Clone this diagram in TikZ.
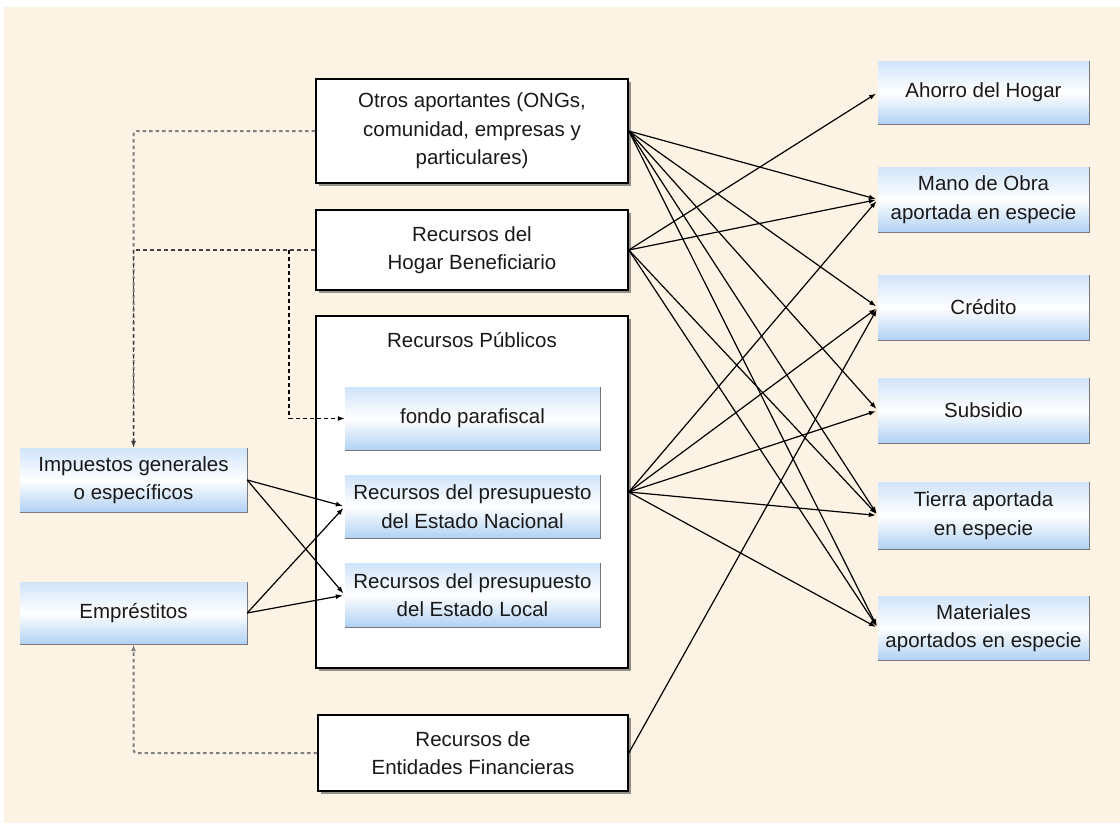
\documentclass[tikz,border=0pt]{standalone}
\usepackage{fontspec}
\setmainfont{Liberation Sans}
\usetikzlibrary{arrows.meta,shadows}
\definecolor{cream}{RGB}{252,243,228}
\definecolor{gtop}{RGB}{208,228,250}
\definecolor{gbot}{RGB}{176,209,243}
\definecolor{gedge}{RGB}{120,120,120}
\definecolor{txt}{RGB}{25,25,25}
\begin{document}
\begin{tikzpicture}[x=1pt,y=-1pt,
  every node/.style={font=\fontsize{20.5}{28.5}\selectfont, text=txt, align=center, inner sep=0pt},
  wbox/.style={draw=black, line width=1.6pt, fill=white,
     drop shadow={shadow xshift=3pt, shadow yshift=-3pt, fill=black!60, opacity=0.7}},
  gbox/.style={top color=gtop, bottom color=gbot, middle color=white, shading angle=0},
  link/.style={line width=1.2pt, black, -{Latex[length=7pt,width=5pt]}, shorten >=2pt},
  dashgray/.style={line width=2pt, black!50, dash pattern=on 3.5pt off 3pt},
  dashdark/.style={line width=1.5pt, black!75, dash pattern=on 4pt off 3pt},
  dashblack/.style={line width=1.3pt, black, dash pattern=on 4pt off 3pt},
  tip/.style={-{Latex[length=7pt,width=5pt]}}
]
\useasboundingbox (0,0) rectangle (1120,823);
\fill[white] (0,0) rectangle (1120,823);
\fill[cream] (4,7) rectangle (1120,823);

% white boxes
\node[wbox, minimum width=312pt, minimum height=104pt] (otros) at (472,131)
  {Otros aportantes (ONGs,\\ comunidad, empresas y\\ particulares)};
\node[wbox, minimum width=312pt, minimum height=80pt] (hogar) at (472,250)
  {Recursos del\\ Hogar Beneficiario};
\node[wbox, minimum width=312pt, minimum height=352pt] (pub) at (472,492) {};
\node (pubtitle) at (472,340) {Recursos P\'ublicos};
\node[wbox, minimum width=310pt, minimum height=76pt] (ent) at (473,753)
  {Recursos de\\ Entidades Financieras};

% gradient boxes
\node[gbox, minimum width=255pt, minimum height=63pt] (fondo) at (472.5,418.5) {fondo parafiscal};
\node[gbox, minimum width=255pt, minimum height=63pt] (nac) at (472.5,506.5) {Recursos del presupuesto\\ del Estado Nacional};
\node[gbox, minimum width=255pt, minimum height=64pt] (loc) at (472.5,595) {Recursos del presupuesto\\ del Estado Local};
\node[gbox, minimum width=227pt, minimum height=64pt] (imp) at (133.5,480) {Impuestos generales\\ o espec\'ificos};
\node[gbox, minimum width=227pt, minimum height=62pt] (emp) at (133.5,613) {Empr\'estitos};
\node[gbox, minimum width=211pt, minimum height=63pt] (aho) at (983.5,92.5) {Ahorro del Hogar};
\node[gbox, minimum width=211pt, minimum height=65pt] (mano) at (983.5,199.5) {Mano de Obra\\ aportada en especie};
\node[gbox, minimum width=211pt, minimum height=65pt] (cred) at (983.5,307.5) {Cr\'edito};
\node[gbox, minimum width=211pt, minimum height=65pt] (sub) at (983.5,410.5) {Subsidio};
\node[gbox, minimum width=211pt, minimum height=67pt] (tie) at (983.5,515.5) {Tierra aportada\\ en especie};
\node[gbox, minimum width=211pt, minimum height=64pt] (mat) at (983.5,628) {Materiales\\ aportados en especie};

\foreach \n in {fondo,nac,loc,imp,emp,aho,mano,cred,sub,tie,mat}{
  \draw[gedge, line width=1.3pt] (\n.north east) -- (\n.south east) -- (\n.south west);
}

% dashed connectors
\coordinate (hf) at (289,250);
\draw[dashgray, rounded corners=3pt, tip] (otros.west) -| (imp.north);
\draw[dashdark, tip] (hogar.west) -| (imp.north);
\draw[dashblack, tip] (hf) |- (fondo.west);
\draw[dashgray, rounded corners=3pt, tip] (ent.west) -| (emp.south);

% solid connectors
\foreach \t in {mano,cred,sub,tie,mat} \draw[link] (otros.east) -- (\t.west);
\foreach \t in {aho,mano,tie,mat} \draw[link] (hogar.east) -- (\t.west);
\foreach \t in {mano,cred,sub,tie,mat} \draw[link] (pub.east) -- (\t.west);
\draw[link] (ent.east) -- (cred.west);
\foreach \t in {nac,loc} {
  \draw[link] (imp.east) -- (\t.west);
  \draw[link] (emp.east) -- (\t.west);
}
\end{tikzpicture}
\end{document}
